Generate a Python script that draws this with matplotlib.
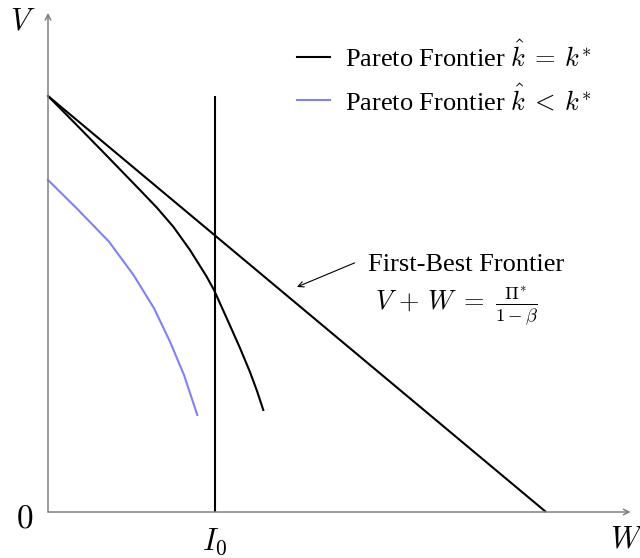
import matplotlib
matplotlib.use("Agg")
import matplotlib.pyplot as plt

plt.rcParams['font.family'] = ['Liberation Serif', 'DejaVu Serif']
plt.rcParams['mathtext.fontset'] = 'cm'

# Data (in chart units)
pareto_w = [0.0, 0.542, 1.165, 1.847, 2.183, 2.516, 2.851, 3.187, 3.333, 3.614, 3.855, 4.056, 4.197, 4.323]
pareto_v = [10.0, 9.344, 8.582, 7.740, 7.320, 6.858, 6.298, 5.656, 5.337, 4.591, 3.942, 3.365, 2.909, 2.452]
pareto_low_w = [0.0, 0.576, 1.225, 1.717, 2.129, 2.450, 2.731, 2.998]
pareto_low_v = [7.981, 7.300, 6.498, 5.697, 4.897, 4.094, 3.293, 2.332]
first_best_w = [0.0, 10.0]
first_best_v = [10.0, 0.0]
I0 = 3.35
I0_v = [0.0, 10.0]
legend_labels = [r'Pareto Frontier $\hat{k}\:=\:k^{*}$', r'Pareto Frontier $\hat{k}\:<\:k^{*}$']

W_PX, H_PX = 640, 558
fig = plt.figure(figsize=(6.4, 5.58), dpi=100)
xmax, ymax = 11.7, 12.0
ax = fig.add_axes([48 / W_PX, (H_PX - 512) / H_PX, xmax * 49.8 / W_PX, ymax * 41.6 / H_PX])
ax.set_xlim(0, xmax)
ax.set_ylim(0, ymax)
ax.axis('off')

gray = '#808080'
ax.annotate('', xy=(xmax, 0), xytext=(0, 0),
            arrowprops=dict(arrowstyle='->', color=gray, lw=1.1, mutation_scale=10,
                            shrinkA=0, shrinkB=0), annotation_clip=False)
ax.annotate('', xy=(0, ymax), xytext=(0, 0),
            arrowprops=dict(arrowstyle='->', color=gray, lw=1.1, mutation_scale=10,
                            shrinkA=0, shrinkB=0), annotation_clip=False)

ax.plot(first_best_w, first_best_v, color='black', lw=1.5, clip_on=False, solid_capstyle='butt')
ax.plot([I0, I0], I0_v, color='black', lw=1.5, clip_on=False, solid_capstyle='butt')
ax.plot(pareto_w, pareto_v, color='black', lw=1.5, clip_on=False, solid_joinstyle='round')
ax.plot(pareto_low_w, pareto_low_v, color='#8080ff', lw=1.5, clip_on=False, solid_joinstyle='round')

# Legend
ax.plot([5.0, 5.66], [10.94, 10.94], color='black', lw=1.5)
ax.plot([5.0, 5.66], [9.90, 9.90], color='#8080ff', lw=1.5)
ax.text(5.96, 10.70, legend_labels[0], fontsize=19, va='baseline', ha='left')
ax.text(5.96, 9.66, legend_labels[1], fontsize=19, va='baseline', ha='left')

# Annotation
ax.text(6.43, 5.79, 'First-Best Frontier', fontsize=19, ha='left', va='baseline')
ax.text(8.21, 4.95, r'$V\,+\,W\;=\;\frac{\Pi^{*}}{1-\beta}$', fontsize=19, ha='center', va='center')
ax.annotate('', xy=(5.0, 5.41), xytext=(6.16, 5.99),
            arrowprops=dict(arrowstyle='->', color='black', lw=0.8, mutation_scale=10,
                            shrinkA=0, shrinkB=0))

# Axis labels
ax.text(-0.50, 11.78, r'$V$', fontsize=22, ha='center', va='center')
ax.text(-0.46, -0.17, r'$0$', fontsize=24, ha='center', va='center')
ax.text(I0, -0.72, r'$I_0$', fontsize=22, ha='center', va='center')
ax.text(11.63, -0.67, r'$W$', fontsize=22, ha='center', va='center')

fig.savefig('out.png', dpi=100)
